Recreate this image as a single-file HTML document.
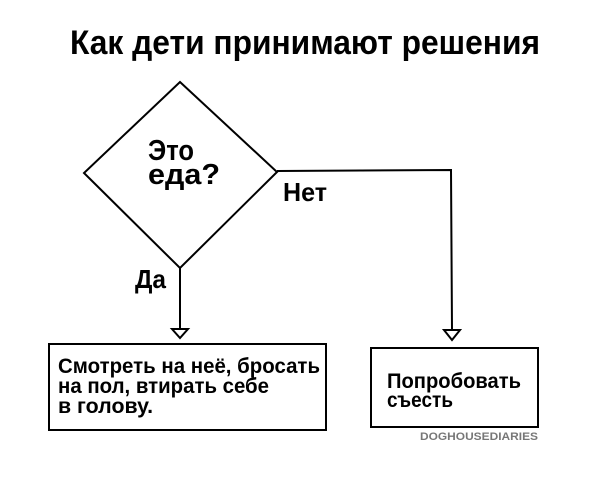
<!DOCTYPE html>
<html><head><meta charset="utf-8"><style>
body{margin:0;background:#fff;width:602px;height:480px;overflow:hidden}
svg text{font-family:"Liberation Sans Narrow","Liberation Sans","DejaVu Sans",sans-serif;font-weight:bold;fill:#000}
</style></head><body>
<svg width="602" height="480" viewBox="0 0 602 480">
<text x="305" y="54" text-anchor="middle" font-size="34" textLength="470" lengthAdjust="spacingAndGlyphs">Как дети принимают решения</text>
<polygon points="180,82 277,172 180,268 84,173" fill="none" stroke="#000" stroke-width="2"/>
<text x="148" y="160" font-size="29" textLength="46" lengthAdjust="spacingAndGlyphs">Это</text>
<text x="148" y="184" font-size="29" textLength="72" lengthAdjust="spacingAndGlyphs">еда?</text>
<polyline points="277,171 451,170 452,330" fill="none" stroke="#000" stroke-width="2"/>
<polygon points="444,330 460,330 452,340" fill="#fff" stroke="#000" stroke-width="2"/>
<text x="283" y="201" font-size="26" textLength="44" lengthAdjust="spacingAndGlyphs">Нет</text>
<line x1="180" y1="268" x2="180" y2="328" stroke="#000" stroke-width="2"/>
<polygon points="172,329 188,329 180,338" fill="#fff" stroke="#000" stroke-width="2"/>
<text x="135" y="288" font-size="26" textLength="31" lengthAdjust="spacingAndGlyphs">Да</text>
<rect x="49" y="344" width="277" height="86" fill="none" stroke="#000" stroke-width="2"/>
<text x="58" y="373" font-size="21" textLength="262" lengthAdjust="spacingAndGlyphs">Смотреть на неё, бросать</text>
<text x="58" y="393" font-size="21" textLength="211" lengthAdjust="spacingAndGlyphs">на пол, втирать себе</text>
<text x="58" y="413" font-size="21" textLength="95" lengthAdjust="spacingAndGlyphs">в голову.</text>
<rect x="371" y="348" width="167" height="79" fill="none" stroke="#000" stroke-width="2"/>
<text x="387" y="388" font-size="21" textLength="134" lengthAdjust="spacingAndGlyphs">Попробовать</text>
<text x="387" y="407" font-size="21" textLength="66" lengthAdjust="spacingAndGlyphs">съесть</text>
<text x="420" y="440" font-size="11" style="fill:#777" textLength="118" lengthAdjust="spacingAndGlyphs">DOGHOUSEDIARIES</text>
</svg>
</body></html>
